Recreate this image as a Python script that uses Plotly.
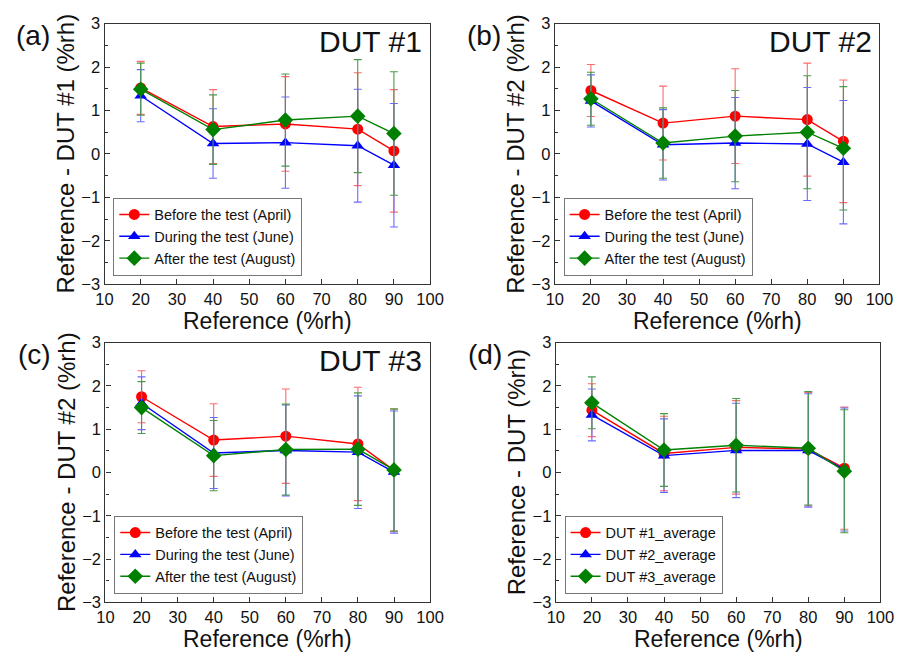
import plotly.graph_objects as go

# Reference humidity set points (%rh)
humidity = [20, 40, 60, 80, 90]

# Panel (a): DUT #1
dut1_april = [1.52, 0.63, 0.69, 0.57, 0.07]
dut1_april_err = [0.61, 0.85, 1.09, 1.30, 1.41]
dut1_june = [1.34, 0.24, 0.26, 0.19, -0.26]
dut1_june_err = [0.60, 0.80, 1.05, 1.30, 1.42]
dut1_aug = [1.49, 0.56, 0.78, 0.87, 0.47]
dut1_aug_err = [0.60, 0.80, 1.06, 1.30, 1.42]

# Panel (b): DUT #2
dut2_april = [1.46, 0.71, 0.87, 0.79, 0.29]
dut2_april_err = [0.60, 0.85, 1.09, 1.30, 1.41]
dut2_june = [1.22, 0.21, 0.25, 0.23, -0.19]
dut2_june_err = [0.60, 0.81, 1.05, 1.30, 1.42]
dut2_aug = [1.27, 0.25, 0.41, 0.50, 0.13]
dut2_aug_err = [0.61, 0.81, 1.05, 1.30, 1.42]

# Panel (c): DUT #3
dut3_april = [1.75, 0.75, 0.84, 0.66, 0.05]
dut3_april_err = [0.60, 0.84, 1.09, 1.31, 1.41]
dut3_june = [1.60, 0.45, 0.51, 0.47, 0.01]
dut3_june_err = [0.61, 0.82, 1.05, 1.30, 1.41]
dut3_aug = [1.50, 0.39, 0.53, 0.54, 0.06]
dut3_aug_err = [0.60, 0.81, 1.05, 1.30, 1.41]

# Panel (d): averages per DUT
avg1 = [1.44, 0.44, 0.58, 0.54, 0.10]
avg1_err = [0.61, 0.86, 1.08, 1.31, 1.41]
avg2 = [1.33, 0.39, 0.51, 0.51, 0.07]
avg2_err = [0.60, 0.85, 1.09, 1.31, 1.42]
avg3 = [1.61, 0.52, 0.63, 0.56, 0.03]
avg3_err = [0.60, 0.84, 1.08, 1.31, 1.42]

legend_test = ["Before the test (April)", "During the test (June)", "After the test (August)"]
legend_avg = ["DUT #1_average", "DUT #2_average", "DUT #3_average"]

panel_letters = ["(a)", "(b)", "(c)", "(d)"]
panel_titles = ["DUT #1", "DUT #2", "DUT #3", ""]
y_titles = ["Reference - DUT #1 (%rh)", "Reference - DUT #2 (%rh)",
            "Reference - DUT #2 (%rh)", "Reference - DUT (%rh)"]
x_title = "Reference (%rh)"

FONT = "Liberation Sans, Arial, sans-serif"
colors = ["#ff0000", "#0000ff", "#008000"]
# lighter, opaque tones for the error bars
err_colors = ["#ff6a6a", "#6a6aff", "#4a9a4a"]
symbols = ["circle", "triangle-up", "diamond"]
msizes = [11, 11, 12]

panels = [
    ([dut1_april, dut1_june, dut1_aug], [dut1_april_err, dut1_june_err, dut1_aug_err], legend_test),
    ([dut2_april, dut2_june, dut2_aug], [dut2_april_err, dut2_june_err, dut2_aug_err], legend_test),
    ([dut3_april, dut3_june, dut3_aug], [dut3_april_err, dut3_june_err, dut3_aug_err], legend_test),
    ([avg1, avg2, avg3], [avg1_err, avg2_err, avg3_err], legend_avg),
]

W, H = 910, 660
# plot-area rectangles in pixels: (left, right, top, bottom)
boxes = [(98, 432, 15, 283), (560, 893, 15, 283), (99, 432, 343, 610), (561, 894, 343, 610)]

fig = go.Figure()
layout = dict(
    width=W, height=H, margin=dict(l=0, r=0, t=0, b=0),
    paper_bgcolor="white", plot_bgcolor="white",
    font=dict(family=FONT, color="#111111"),
    showlegend=True,
)
annotations = []

for i, (series, errs, names) in enumerate(panels):
    k = "" if i == 0 else str(i + 1)
    xa, ya = "x" + k, "y" + k
    leg = "legend" + k
    for j in range(3):
        fig.add_trace(go.Scatter(
            x=humidity, y=series[j], name=names[j],
            xaxis=xa, yaxis=ya, legend=leg,
            mode="lines+markers",
            line=dict(color=colors[j], width=1.4),
            marker=dict(symbol=symbols[j], size=msizes[j], color=colors[j], line=dict(width=0)),
            error_y=dict(type="data", array=errs[j], visible=True,
                         color=err_colors[j], thickness=1.1, width=4),
        ))
    l, r, t, b = boxes[i]
    dx = [l / W, r / W]
    dy = [1 - b / H, 1 - t / H]
    layout["xaxis" + k] = dict(
        domain=dx, anchor=ya, range=[10, 100], dtick=10, tick0=10,
        ticks="inside", ticklen=5, tickwidth=1, tickcolor="#333",
        showline=True, linecolor="#333", linewidth=1.3, mirror=True,
        showgrid=False, zeroline=False,
        tickfont=dict(size=16.5, family=FONT, color="#111"),
    )
    layout["yaxis" + k] = dict(
        domain=dy, anchor=xa, range=[-3, 3], dtick=1, tick0=0,
        ticks="inside", ticklen=5, tickwidth=1, tickcolor="#333",
        minor=dict(dtick=0.5, ticks="inside", ticklen=3, tickcolor="#333", showgrid=False),
        showline=True, linecolor="#333", linewidth=1.3, mirror=True,
        showgrid=False, zeroline=False,
        tickfont=dict(size=16.5, family=FONT, color="#111"),
    )
    layout[leg] = dict(
        x=(l + 9) / W, y=1 - (b - 9) / H, xanchor="left", yanchor="bottom",
        xref="paper", yref="paper",
        bgcolor="white", bordercolor="#777", borderwidth=1,
        font=dict(size=14.5, family=FONT, color="#111"),
        tracegroupgap=0, itemwidth=30,
    )
    # axis titles
    annotations.append(dict(
        text=x_title, xref="paper", yref="paper",
        x=(l + r) / 2 / W, y=1 - (b + 38) / H, xanchor="center", yanchor="middle",
        showarrow=False, font=dict(size=23, family=FONT, color="#111"),
    ))
    annotations.append(dict(
        text=y_titles[i], xref="paper", yref="paper", textangle=-90,
        x=(l - 40) / W, y=1 - (t + b) / 2 / H, xanchor="center", yanchor="middle",
        showarrow=False, font=dict(size=24, family=FONT, color="#111"),
    ))
    # panel letter
    annotations.append(dict(
        text=panel_letters[i], xref="paper", yref="paper",
        x=(l - 73) / W, y=1 - (t + 12) / H, xanchor="center", yanchor="middle",
        showarrow=False, font=dict(size=28, family=FONT, color="#111"),
    ))
    if panel_titles[i]:
        annotations.append(dict(
            text=panel_titles[i], xref="paper", yref="paper",
            x=(r - 6) / W, y=1 - (t + 18) / H, xanchor="right", yanchor="middle",
            showarrow=False, font=dict(size=30, family=FONT, color="#111"),
        ))

layout["annotations"] = annotations
fig.update_layout(**layout)
fig.write_html("out.html")
